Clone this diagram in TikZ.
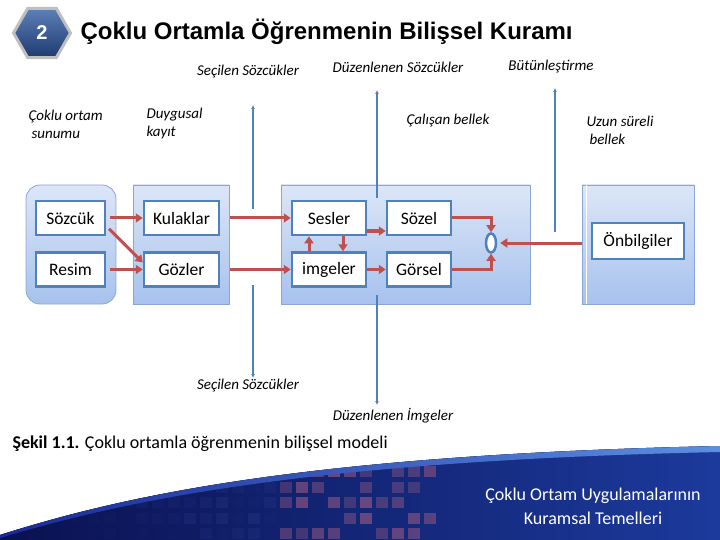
\documentclass[tikz,border=0pt]{standalone}
\usepackage{fontspec}
\setmainfont{Carlito}
\newfontfamily\titlefont{Liberation Sans}
\usetikzlibrary{arrows.meta,shapes.geometric}

\definecolor{wmblue}{HTML}{4F81BD}
\definecolor{flowred}{HTML}{C0504D}
\definecolor{grptop}{HTML}{DCE6F7}
\definecolor{grpbot}{HTML}{A7C2EE}
\definecolor{grpline}{HTML}{8AA6D4}
\definecolor{hexdark}{HTML}{1E3A70}
\definecolor{hexlight}{HTML}{5D80B8}
\definecolor{swdark}{HTML}{0A1150}
\definecolor{swmid}{HTML}{1C3A9C}
\definecolor{swedge}{HTML}{5C8FE0}
\definecolor{swedgedark}{HTML}{1A2A98}
\definecolor{pixel}{HTML}{9A5A82}
\definecolor{pixeldark}{HTML}{2C3C8C}

\tikzset{
  grp/.style={draw=grpline, line width=0.8pt, top color=grptop, bottom color=grpbot, minimum height=119pt},
  itembox/.style={draw=wmblue, line width=2.5pt, fill=white, minimum height=34pt, inner sep=1pt, font=\fontsize{17.5}{20}\selectfont},
  lbl/.style={font=\itshape\fontsize{15}{18}\selectfont},
  flow/.style={draw=flowred, line width=3pt, -{Triangle[length=7pt,width=9pt]}},
  vline/.style={draw=wmblue, line width=2pt, -{Latex[length=4pt,width=4pt]}}
}

\begin{document}
\begin{tikzpicture}[x=1pt,y=-1pt]
    \useasboundingbox (0,0) rectangle (720,540);

    % Footer swoosh
    \begin{scope}
        \clip (0,540) -- (0,535) .. controls (120,497) and (300,455) .. (720,446) -- (720,540) -- cycle;
        \fill[left color=swdark, right color=swmid] (0,440) rectangle (720,540);
        \pgfmathsetseed{11}
        \foreach \c in {0,...,24} {
            \foreach \r in {0,...,4} {
                \pgfmathsetmacro{\xx}{40+16*\c}
                \pgfmathsetmacro{\yy}{466+15.5*\r}
                \ifnum\c>14
                    \pgfmathsetmacro{\op}{(rnd>0.3)*(0.35+0.3*rnd)}
                    \fill[pixel, opacity=\op] (\xx,\yy) rectangle ++(12,11);
                \else
                    \pgfmathsetmacro{\op}{rnd*0.45*\c/14}
                    \fill[pixeldark, opacity=\op] (\xx,\yy) rectangle ++(12,11);
                \fi
            }
        }
    \end{scope}
    \draw[left color=swedgedark, right color=swedge, draw=none]
        (0,535) .. controls (120,497) and (300,455) .. (720,446) -- (720,452)
        .. controls (300,461) and (120,502) .. (0,538) -- cycle;

    % Heading
    \node[regular polygon, regular polygon sides=6, minimum size=57pt, inner sep=0pt,
          draw=black!25, line width=3pt, top color=hexlight, bottom color=hexdark,
          text=white, font=\titlefont\bfseries\fontsize{20}{24}\selectfont] (no) at (42,33) {2};
    \node[anchor=west, font=\titlefont\bfseries\fontsize{24}{28}\selectfont] (title) at (77,32)
        {Çoklu Ortamla Öğrenmenin Bilişsel Kuramı};

    % Stage groups
    \node[grp, rounded corners=14pt, minimum width=90pt] (sunum) at (71,244.5) {};
    \node[grp, minimum width=96pt] (duyu) at (181,244.5) {};
    \node[grp, minimum width=249pt] (calisan) at (405.5,244.5) {};
    \node[grp, minimum width=112pt] (uzun) at (638,244.5) {};
    \draw[white, line width=1pt] ([xshift=5pt]uzun.north west) -- ([xshift=5pt]uzun.south west);

    % Items
    \node[itembox, minimum width=69pt] (sozcuk) at (70.5,218) {Sözcük};
    \node[itembox, minimum width=69pt] (resim) at (70.5,269.5) {Resim};
    \node[itembox, minimum width=75pt] (kulak) at (181.5,218) {Kulaklar};
    \node[itembox, minimum width=75pt] (goz) at (181.5,269.5) {Gözler};
    \node[itembox, minimum width=74pt] (ses) at (329,218) {Sesler};
    \node[itembox, minimum width=74pt] (imge) at (329,269.5) {imgeler};
    \node[itembox, minimum width=64pt] (sozel) at (419,218) {Sözel};
    \node[itembox, minimum width=64pt] (gorsel) at (419,269.5) {Görsel};
    \node[itembox, minimum width=92pt, minimum height=36pt] (onbilgi) at (638,241) {Önbilgiler};
    \node[ellipse, draw=wmblue, line width=2.5pt, fill=white, minimum width=10pt,
          minimum height=19pt, inner sep=0pt] (birles) at (491,243) {};

    % Flows
    \draw[flow, shorten <=4pt] (sozcuk.east) -- (kulak.west);
    \draw[flow, shorten <=4pt] ([yshift=-8pt]sozcuk.east) -- ([yshift=7pt]goz.west);
    \draw[flow, shorten <=4pt] (resim.east) -- (goz.west);
    \draw[flow, shorten <=10pt] (kulak.east) -- (ses.west);
    \draw[flow, shorten <=10pt] (goz.east) -- (imge.west);
    \draw[flow] ([xshift=-20pt]imge.north) -- ([xshift=-20pt]ses.south);
    \draw[flow] ([xshift=14pt]ses.south) -- ([xshift=14pt]imge.north);
    \draw[flow] ([yshift=-13pt]ses.east) -- ([yshift=-13pt]sozel.west);
    \draw[flow] (imge.east) -- (gorsel.west);
    \draw[flow] (sozel.east) -| (birles.north);
    \draw[flow] (gorsel.east) -| (birles.south);
    \draw[flow, shorten >=3pt] (uzun.west |- birles.east) -- (birles.east);

    % Selection lines
    \coordinate (s1top) at (253,105);
    \coordinate (s1a) at (253,209);
    \coordinate (s1b) at (253,285);
    \coordinate (s1bot) at (253,378);
    \coordinate (s2top) at (377,90);
    \coordinate (s2a) at (377,198);
    \coordinate (s2b) at (377,295);
    \coordinate (s2bot) at (377,405);
    \coordinate (s3top) at (555,88);
    \coordinate (s3a) at (555,232);
    \draw[vline] (s1a) -- (s1top);
    \draw[vline] (s1b) -- (s1bot);
    \draw[vline] (s2a) -- (s2top);
    \draw[vline] (s2b) -- (s2bot);
    \draw[vline] (s3a) -- (s3top);

    % Labels
    \node[lbl] (secust) at (248,72) {Seçilen Sözcükler};
    \node[lbl] (duzust) at (398,67) {Düzenlenen Sözcükler};
    \node[lbl] (butun) at (551,67) {Bütünleştirme};
    \node[lbl, align=left, anchor=west] (sunumlbl) at (25,124) {Çoklu ortam\\\hspace{3pt}sunumu};
    \node[lbl, align=left, anchor=west] (kayitlbl) at (143,124) {Duygusal\\kayıt};
    \node[lbl] (calbl) at (448,121) {Çalışan bellek};
    \node[lbl, align=left, anchor=west] (uzunlbl) at (583,130) {Uzun süreli\\\hspace{3pt}bellek};
    \node[lbl] (secalt) at (248,386) {Seçilen Sözcükler};
    \node[lbl] (duzalt) at (393,416) {Düzenlenen İmgeler};

    % Caption and footer
    \node[anchor=west, font=\fontsize{18}{21}\selectfont] (caption) at (9,444)
        {\textbf{Şekil 1.1.} Çoklu ortamla öğrenmenin bilişsel modeli};
    \node[white, align=center, font=\fontsize{18}{24}\selectfont] (footer) at (593,506)
        {Çoklu Ortam Uygulamalarının\\Kuramsal Temelleri};
\end{tikzpicture}
\end{document}
